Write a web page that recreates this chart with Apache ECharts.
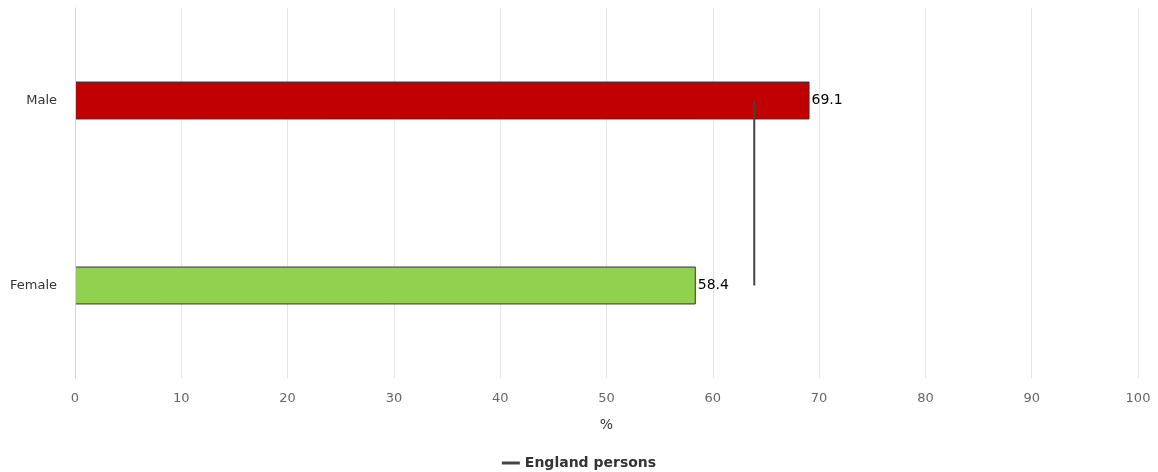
<!DOCTYPE html>
<html>
<head>
<meta charset="utf-8">
<script src="https://cdn.jsdelivr.net/npm/echarts@6/dist/echarts.min.js"></script>
<style>html,body{margin:0;padding:0;background:#fff}#c{width:1158px;height:472px}</style>
</head>
<body>
<div id="c"></div>
<script>
const categories = ['Male', 'Female'];
const values = [69.1, 58.4];
const barColors = ['#c00000', '#92d050'];
const englandPersons = [63.9, 63.9];
const xTicks = [0, 10, 20, 30, 40, 50, 60, 70, 80, 90, 100];

const chart = echarts.init(document.getElementById('c'), null, {renderer: 'canvas'});
chart.setOption({
  animation: false,
  textStyle: {fontFamily: '"DejaVu Sans", sans-serif'},
  grid: {left: 75, right: 20, top: 8, bottom: 94, containLabel: false},
  legend: {
    bottom: -3, left: 'center',
    data: [{name: 'England persons', icon: 'rect'}],
    itemWidth: 18, itemHeight: 3, itemGap: 6,
    textStyle: {fontWeight: 'bold', fontSize: 14, color: '#333'}
  },
  xAxis: {
    type: 'value', min: xTicks[0], max: xTicks[xTicks.length - 1], interval: 10,
    name: '%', nameLocation: 'middle', nameGap: 40,
    nameTextStyle: {fontSize: 14, color: '#333'},
    axisLine: {show: false}, axisTick: {show: false},
    axisLabel: {fontSize: 13, color: '#666', margin: 14},
    splitLine: {showMinLine: false, lineStyle: {color: '#e6e6e6', width: 1}}
  },
  yAxis: {
    type: 'category', data: categories, inverse: true,
    axisLine: {show: true, lineStyle: {color: '#ccd6eb'}},
    axisTick: {show: false},
    axisLabel: {fontSize: 13, color: '#333', margin: 18},
    z: 5
  },
  series: [
    {
      type: 'bar', barWidth: '20.5%',
      data: values.map((v, i) => ({value: v, itemStyle: {color: barColors[i]}})),
      itemStyle: {borderColor: '#333', borderWidth: 1},
      label: {show: true, position: 'right', distance: 2, color: '#000', fontSize: 14},
      z: 2
    },
    {
      name: 'England persons', type: 'line', data: englandPersons,
      symbol: 'none', showSymbol: false,
      lineStyle: {color: '#444', width: 2},
      itemStyle: {color: '#444'},
      z: 3
    }
  ]
});
</script>
</body>
</html>
